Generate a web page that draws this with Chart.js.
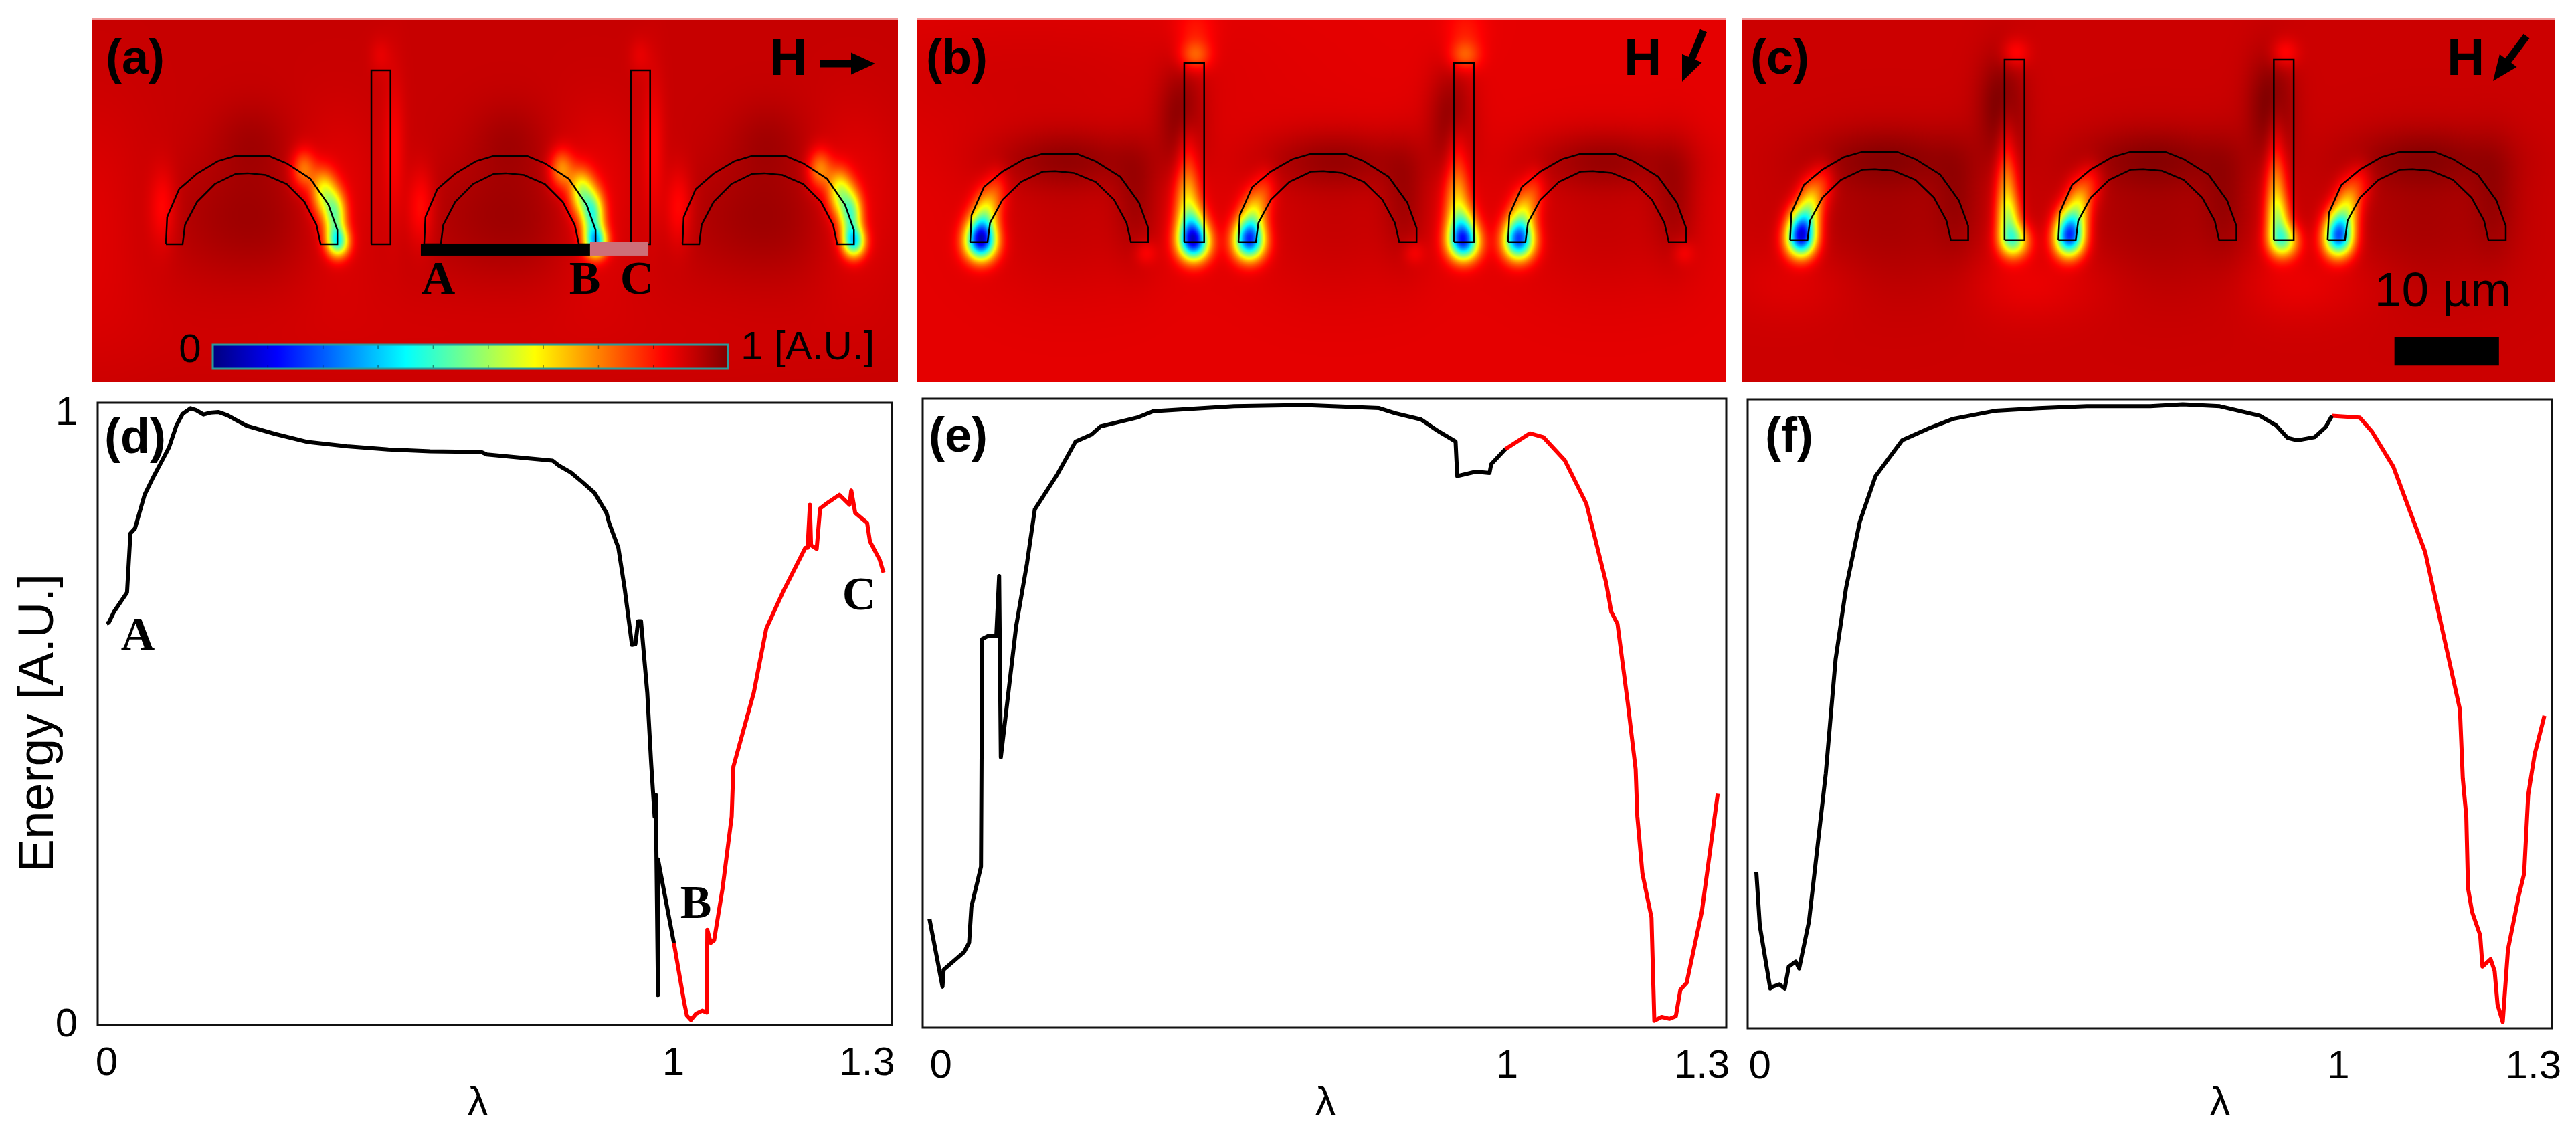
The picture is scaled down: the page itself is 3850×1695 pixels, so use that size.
<!DOCTYPE html>
<html><head><meta charset="utf-8">
<style>html,body{margin:0;padding:0;background:#fff;width:3850px;height:1695px;overflow:hidden}canvas{position:absolute;display:block}</style>
<script src="https://cdn.jsdelivr.net/npm/chart.js@4"></script>
</head><body>
<script>
// ---- curve data: lambda (normalised) and energy (A.U.) ----
const dLambdaBlack=[0,.004,.013,.036,.042,.050,.067,.081,.099,.110,.123,.134,.148,.158,.171,.183,.197,.213,.229,.247,.297,.355,.424,.497,.571,.661,.671,.787,.798,.819,.840,.861,.882,.887,.903,.914,.927,.933,.938,.943,.954,.961,.967,.969,.973,.973,1.001];
const dEnergyBlack=[.645,.647,.664,.695,.790,.798,.852,.878,.909,.928,.963,.982,.991,.988,.981,.984,.985,.980,.972,.963,.950,.937,.930,.925,.922,.921,.917,.907,.899,.888,.872,.855,.823,.806,.767,.702,.611,.612,.649,.649,.534,.419,.335,.370,.048,.266,.132];
const dLambdaRed=[1.001,1.019,1.024,1.031,1.040,1.051,1.059,1.060,1.066,1.072,1.087,1.103,1.106,1.142,1.164,1.193,1.233,1.237,1.241,1.243,1.253,1.259,1.272,1.293,1.311,1.314,1.321,1.342,1.347,1.364,1.371];
const dEnergyRed=[.132,.037,.015,.008,.018,.023,.020,.153,.132,.136,.220,.335,.415,.534,.637,.695,.767,.767,.836,.771,.765,.830,.839,.852,.836,.859,.823,.807,.777,.748,.727];

const eLambdaBlack=[-.020,.003,.005,.041,.050,.054,.071,.073,.084,.098,.103,.106,.133,.152,.166,.206,.238,.266,.282,.347,.375,.518,.641,.774,.802,.848,.874,.909,.912,.945,.969,.972,.997];
const eEnergyBlack=[.173,.065,.092,.120,.135,.192,.256,.618,.623,.623,.718,.430,.638,.737,.824,.880,.932,.943,.956,.970,.980,.988,.990,.985,.977,.967,.951,.932,.877,.884,.882,.896,.920];
const eLambdaRed=[.997,1.040,1.064,1.102,1.140,1.149,1.175,1.184,1.195,1.213,1.227,1.230,1.239,1.255,1.260,1.273,1.287,1.298,1.306,1.317,1.344,1.372];
const eEnergyRed=[.920,.945,.939,.902,.833,.801,.707,.661,.642,.517,.411,.336,.245,.175,.011,.017,.014,.018,.060,.071,.185,.372];

const fLambdaBlack=[-.006,0,.018,.022,.034,.043,.050,.062,.068,.085,.114,.131,.149,.173,.200,.246,.292,.334,.408,.482,.565,.675,.731,.795,.864,.892,.912,.929,.959,.978,.989];
const fEnergyBlack=[.248,.163,.063,.066,.070,.063,.098,.106,.095,.170,.405,.587,.700,.806,.878,.935,.954,.969,.982,.986,.989,.989,.992,.989,.974,.959,.939,.935,.940,.956,.974];
const fLambdaRed=[.989,1.037,1.058,1.095,1.150,1.210,1.215,1.221,1.224,1.231,1.245,1.249,1.263,1.270,1.275,1.284,1.293,1.312,1.321,1.328,1.339,1.356];
const fEnergyRed=[.974,.971,.949,.893,.757,.507,.397,.337,.223,.185,.148,.098,.110,.091,.038,.010,.125,.212,.246,.371,.435,.497];

const tickLabelsX=['0','1','1.3'];
const tickLabelsY=['0','1'];

// ---- structure outlines (micrometres, relative to the arch base) ----
const archOuterX=[0,.12,1.27,3.0,5.0,6.74,9.9,11.64,13.94,15.67,16.53,16.53];
const archOuterY=[0,2.6,5.3,6.8,8.0,8.52,8.52,7.8,6.3,3.8,1.36,0];
const archInnerX=[1.61,1.84,3.0,4.72,6.74,7.89,9.62,11.64,13.36,14.52,14.92];
const archInnerY=[0,1.85,4.07,5.8,6.79,6.84,6.67,5.8,4.07,1.85,0];
const rodWidth=1.85;

const archLeftsA=[7.16,32.06,56.97], rodLeftsA=[26.97,52.0];
const archLeftsB=[4.97,29.88,54.9],  rodLeftsB=[24.84,49.88];
const archLeftsC=[4.5,29.4,54.4],    rodLeftsC=[24.4,49.4];

// ---- field features: [dx, height above base, sigmaX, sigmaY, depth] ----
const archSpotsA=[[13.3,7.2,.8,1.3,.18],[15.2,5,.8,1.5,.3],[16.3,2.8,.75,1.6,.42],[16.6,.2,.75,1.0,.48],[8.3,2.5,5.5,4,-.04],[8.3,10,2.6,2.6,-.03],[-.3,3.5,.9,2.6,.07],[16.5,4,3,5.5,.04]];
const rodSpotsA=[[rodWidth+.4,9,.7,5,.05],[.9,18.2,.7,1.2,.03]];
const archSpotsB=[[1,-.1,1.0,1.2,.62],[1,1.3,.9,1.3,.34],[1.5,3.2,.8,1.4,.2],[2.5,5,.7,1.4,.08],[9,2,5.5,5,-.03],[9,8,5,2,-.06],[15.5,4,1.5,4,-.05],[16.3,-1,.7,.8,.05]];
const rodSpotsB=[[.9,-.1,1.0,1.2,.62],[.7,1.5,.9,1.4,.34],[.3,4,.8,2,.2],[.3,8,.7,2.5,.08],[-.3,12,1.5,3.5,-.08],[1,18,1.0,1.0,.13],[1,20.5,1.3,1.5,.05]];
const archSpotsC=[[1,0,.95,1.2,.55],[1.1,1.6,.9,1.3,.36],[1.9,3.5,.8,1.5,.22],[3,5.5,.8,1.4,.08],[9,2,5.5,5,-.035],[9,8,5,2,-.05],[15.5,4,1.5,4,-.035],[.5,-4,4,2.5,.02]];
const rodSpotsC=[[.9,-.1,.95,1.1,.36],[.4,1.8,.75,1.6,.25],[.2,4.5,.7,2.4,.18],[.2,9,.6,3,.06],[-.3,13,1.5,3.5,-.08],[1,18,.9,1.0,.07],[.9,-4,3,2.5,.02]];
const generalGlowB=[[10,6,14,5,-.02]];
const generalGlowA=[[0,20,4,8,.025],[38,30,30,4,.012]];
const generalGlowC=[];

const FONT='"Liberation Sans",Arial,sans-serif', SERIF='"Liberation Serif",serif';
const panelBold='bold 72px '+FONT, serifBold='bold 70px '+SERIF;

function jet(v){const c=t=>Math.round(255*Math.max(0,Math.min(1,t)));
  return [c(1.5-Math.abs(4*v-3)),c(1.5-Math.abs(4*v-2)),c(1.5-Math.abs(4*v-1))];}

function buildSpots(archLefts,rodLefts,archSpots,rodSpots,archF,rodF,baseY,glow){
  const out=[];
  archLefts.forEach((l,i)=>archSpots.forEach(s=>out.push([l+s[0],baseY-s[1],s[2],s[3],s[4]>0?s[4]*archF[i]:s[4]])));
  rodLefts.forEach((l,i)=>rodSpots.forEach(s=>out.push([l+s[0],baseY-s[1],s[2],s[3],s[4]>0?s[4]*rodF[i]:s[4]])));
  glow.forEach(g=>out.push(g));
  return out;
}

const fieldPlugin={id:'field',beforeDatasetsDraw(chart){
  const o=chart.options.plugins.field,a=chart.chartArea,sx=chart.scales.x,sy=chart.scales.y;
  const w=Math.round(a.width/2),h=Math.round(a.height/2);
  const off=document.createElement('canvas');off.width=w;off.height=h;
  const g=off.getContext('2d'),img=g.createImageData(w,h);
  for(let j=0;j<h;j++){const yv=sy.getValueForPixel(a.top+(j+.5)*2);
    for(let i=0;i<w;i++){const xv=sx.getValueForPixel(a.left+(i+.5)*2);
      let v=o.base;
      for(const s of o.spots){const dx=(xv-s[0])/s[2],dy=(yv-s[1])/s[3],q=dx*dx+dy*dy;if(q<16)v-=s[4]*Math.exp(-q/2);}
      v=Math.max(0,Math.min(1,v));
      const c=jet(v),p=(j*w+i)*4;img.data[p]=c[0];img.data[p+1]=c[1];img.data[p+2]=c[2];img.data[p+3]=255;}}
  g.putImageData(img,0,0);
  const ctx=chart.ctx;ctx.save();ctx.imageSmoothingEnabled=true;ctx.imageSmoothingQuality='high';
  ctx.drawImage(off,a.left,a.top,a.width,a.height);
  ctx.fillStyle='rgba(255,200,200,.75)';ctx.fillRect(a.left,a.top,a.width,3);
  ctx.restore();
}};

const decorPlugin={id:'decor',afterDatasetsDraw(chart){
  const o=chart.options.plugins.decor,ctx=chart.ctx,sx=chart.scales.x,sy=chart.scales.y;
  ctx.save();
  (o.rects||[]).forEach(r=>{ctx.fillStyle=r[4];
    const x0=sx.getPixelForValue(r[0]),x1=sx.getPixelForValue(r[1]),y0=sy.getPixelForValue(r[2]),y1=sy.getPixelForValue(r[3]);
    ctx.fillRect(x0,y0,x1-x0,y1-y0);});
  if(o.frame){const a=chart.chartArea;ctx.strokeStyle='#111';ctx.lineWidth=3;ctx.strokeRect(a.left,a.top,a.width,a.height);}
  if(o.colorbar){const [x,y,w,h]=o.colorbar;
    const gr=ctx.createLinearGradient(x-o.ox,0,x-o.ox+w,0);
    for(let i=0;i<=40;i++){const c=jet(i/40);gr.addColorStop(i/40,`rgb(${c[0]},${c[1]},${c[2]})`);}
    ctx.fillStyle=gr;ctx.fillRect(x-o.ox,y-o.oy,w,h);
    ctx.strokeStyle='rgba(0,0,0,.45)';ctx.lineWidth=1.5;
    for(let i=1;i<9;i++){const px=x-o.ox+w*i/9.35;ctx.beginPath();ctx.moveTo(px,y-o.oy);ctx.lineTo(px,y-o.oy+6);ctx.moveTo(px,y-o.oy+h-6);ctx.lineTo(px,y-o.oy+h);ctx.stroke();}
    ctx.strokeStyle='#2a9c9c';ctx.lineWidth=3;ctx.strokeRect(x-o.ox,y-o.oy,w,h);}
  (o.arrows||[]).forEach(r=>{const [x0,y0,x1,y1,t,hl,hw]=r;
    const ax=x0-o.ox,ay=y0-o.oy,bx=x1-o.ox,by=y1-o.oy,ang=Math.atan2(by-ay,bx-ax);
    ctx.strokeStyle='#000';ctx.fillStyle='#000';ctx.lineWidth=t;
    ctx.beginPath();ctx.moveTo(ax,ay);ctx.lineTo(bx-hl*.8*Math.cos(ang),by-hl*.8*Math.sin(ang));ctx.stroke();
    ctx.translate(bx,by);ctx.rotate(ang);ctx.beginPath();ctx.moveTo(0,0);ctx.lineTo(-hl,hw/2);ctx.lineTo(-hl,-hw/2);ctx.closePath();ctx.fill();
    ctx.rotate(-ang);ctx.translate(-bx,-by);});
  (o.texts||[]).forEach(t=>{const [s,x,y,font,align,rot]=t;
    ctx.font=font;ctx.fillStyle='#000';ctx.textAlign=align||'left';ctx.textBaseline='middle';
    ctx.save();ctx.translate(x-o.ox,y-o.oy);if(rot)ctx.rotate(rot);ctx.fillText(s,0,0);ctx.restore();});
  ctx.restore();
}};

function mkCanvas(l,t,w,h){const c=document.createElement('canvas');c.width=w;c.height=h;
  c.style.left=l+'px';c.style.top=t+'px';c.style.width=w+'px';c.style.height=h+'px';document.body.appendChild(c);return c;}

function outline(left,base){
  const xs=archOuterX.concat(archInnerX.slice().reverse(),[archOuterX[0]]);
  const ys=archOuterY.concat(archInnerY.slice().reverse(),[archOuterY[0]]);
  return xs.map((x,i)=>({x:left+x,y:base-ys[i]}));
}
function rodOutline(left,base,top){
  return [[left,base],[left+rodWidth,base],[left+rodWidth,top],[left,top],[left,base]].map(p=>({x:p[0],y:p[1]}));
}

function panel(cfg){
  const c=mkCanvas(cfg.l,27,cfg.w,544);
  const datasets=[];
  const line={borderColor:'#000',borderWidth:2.5,pointRadius:0,tension:0,fill:false,showLine:true};
  cfg.arches.forEach(l=>datasets.push(Object.assign({label:'arch',data:outline(l,cfg.baseY)},line)));
  cfg.rods.forEach(l=>datasets.push(Object.assign({label:'rod',data:rodOutline(l,cfg.baseY,cfg.rodTop)},line)));
  new Chart(c,{type:'line',data:{datasets},plugins:[fieldPlugin,decorPlugin],options:{
    responsive:false,animation:false,devicePixelRatio:1,layout:{padding:0},
    scales:{x:{type:'linear',display:false,min:0,max:cfg.w/cfg.pxPerUm},y:{type:'linear',display:false,reverse:true,min:0,max:544/15.5}},
    plugins:{legend:{display:false},tooltip:{enabled:false},
      field:{base:cfg.base,spots:cfg.spots},
      decor:{ox:cfg.l,oy:27,rects:cfg.rects,texts:cfg.texts,arrows:cfg.arrows,colorbar:cfg.colorbar}}}});
}

function zeroPad(s){s.paddingLeft=0;s.paddingRight=0;s.paddingTop=0;s.paddingBottom=0;}

function plot(cfg){
  const c=mkCanvas(cfg.cl,cfg.ct,cfg.cw,cfg.ch);
  const mk=(xs,ys,col,label)=>({label,data:xs.map((x,i)=>({x,y:ys[i]})),borderColor:col,borderWidth:6,pointRadius:0,tension:0,fill:false,showLine:true,borderJoinStyle:'round'});
  new Chart(c,{type:'line',data:{datasets:[mk(cfg.xb,cfg.yb,'#000','Energy'),mk(cfg.xr,cfg.yr,'#ff0000','Energy (beyond 1)')]},plugins:[decorPlugin],options:{
    responsive:false,animation:false,devicePixelRatio:1,
    layout:{padding:{top:cfg.pt-cfg.ct,right:cfg.cl+cfg.cw-cfg.pr,left:cfg.yTicks?0:cfg.pl-cfg.cl,bottom:0}},
    scales:{
      x:{type:'linear',min:cfg.xmin,max:cfg.xmax,grid:{display:false},border:{display:false},
        afterBuildTicks(s){s.ticks=cfg.xTicks.map(v=>({value:v}));},
        afterFit(s){s.height=cfg.ct+cfg.ch-cfg.pb;zeroPad(s);},
        ticks:{autoSkip:false,maxRotation:0,minRotation:0,padding:14,color:'#000',font:{family:'Liberation Sans',size:60},callback:(v,i)=>tickLabelsX[i]}},
      y:{type:'linear',min:0,max:1,display:!!cfg.yTicks,grid:{display:false},border:{display:false},
        afterBuildTicks(s){if(cfg.yTicks)s.ticks=cfg.yTicks.map(v=>({value:v}));},
        afterFit(s){if(cfg.yTicks)s.width=cfg.pl-cfg.cl;zeroPad(s);},
        ticks:{autoSkip:false,padding:22,color:'#000',font:{family:'Liberation Sans',size:60},callback:(v,i)=>tickLabelsY[i]}}},
    plugins:{legend:{display:false},tooltip:{enabled:false},decor:{ox:cfg.cl,oy:cfg.ct,frame:true,texts:cfg.texts}}}});
}

panel({l:137,w:1205,pxPerUm:15.5,baseY:21.8,rodTop:5.03,arches:archLeftsA,rods:rodLeftsA,base:.93,
  spots:buildSpots(archLeftsA,rodLeftsA,archSpotsA,rodSpotsA,[.92,1.05,1],[1,1],21.8,generalGlowA),
  rects:[[31.74,48.06,21.74,22.9,'#000'],[48.06,53.68,21.6,22.9,'#cd6f78']],
  colorbar:[318,515,770,36],
  arrows:[[1225,95,1308,95,11,36,33]],
  texts:[['(a)',158,90,panelBold],['H',1150,90,'bold 78px '+FONT],['A',655,421,serifBold,'center'],['B',874,421,serifBold,'center'],['C',952,421,serifBold,'center'],['0',284,524,'60px '+FONT,'center'],['1 [A.U.]',1107,520,'60px '+FONT]]});

panel({l:1370,w:1210,pxPerUm:16.1,baseY:21.6,rodTop:4.32,arches:archLeftsB,rods:rodLeftsB,base:.90,
  spots:buildSpots(archLeftsB,rodLeftsB,archSpotsB,rodSpotsB,[1,.88,.85],[1,.92],21.6,generalGlowB),
  arrows:[[2546,46,2514,122,11,38,32]],
  texts:[['(b)',1384,90,panelBold],['H',2427,90,'bold 78px '+FONT]]});

panel({l:2603,w:1216,pxPerUm:16.1,baseY:21.4,rodTop:4.0,arches:archLeftsC,rods:rodLeftsC,base:.925,
  spots:buildSpots(archLeftsC,rodLeftsC,archSpotsC,rodSpotsC,[1.1,1,.95],[1,1],21.4,generalGlowC),
  rects:[[60.6,70.3,30.77,33.5,'#000']],
  arrows:[[3776,54,3726,121,11,38,32]],
  texts:[['(c)',2616,90,panelBold],['H',3657,90,'bold 78px '+FONT],['10 µm',3651,438,'73px '+FONT,'center']]});

plot({cl:0,ct:590,cw:1400,ch:1105,pl:146,pr:1333,pt:602,pb:1532,xmin:-.0158,xmax:1.3857,xTicks:[0,1,1.342],yTicks:[0,.982],
  xb:dLambdaBlack,yb:dEnergyBlack,xr:dLambdaRed,yr:dEnergyRed,
  texts:[['(d)',156,657,panelBold],['A',206,953,serifBold,'center'],['B',1040,1354,serifBold,'center'],['C',1284,893,serifBold,'center'],['λ',714,1649,'60px '+FONT,'center'],['Energy [A.U.]',58,1081,'75px '+FONT,'center',-Math.PI/2]]});

plot({cl:1340,ct:590,cw:1300,ch:1105,pl:1379,pr:2580,pt:596,pb:1536,xmin:-.032,xmax:1.387,xTicks:[0,1,1.344],
  xb:eLambdaBlack,yb:eEnergyBlack,xr:eLambdaRed,yr:eEnergyRed,
  texts:[['(e)',1388,655,panelBold],['λ',1981,1649,'60px '+FONT,'center']]});

plot({cl:2570,ct:590,cw:1280,ch:1105,pl:2612,pr:3814,pt:597,pb:1537,xmin:-.021,xmax:1.369,xTicks:[0,1,1.337],
  xb:fLambdaBlack,yb:fEnergyBlack,xr:fLambdaRed,yr:fEnergyRed,
  texts:[['(f)',2638,655,panelBold],['λ',3318,1649,'60px '+FONT,'center']]});
</script>
</body></html>
